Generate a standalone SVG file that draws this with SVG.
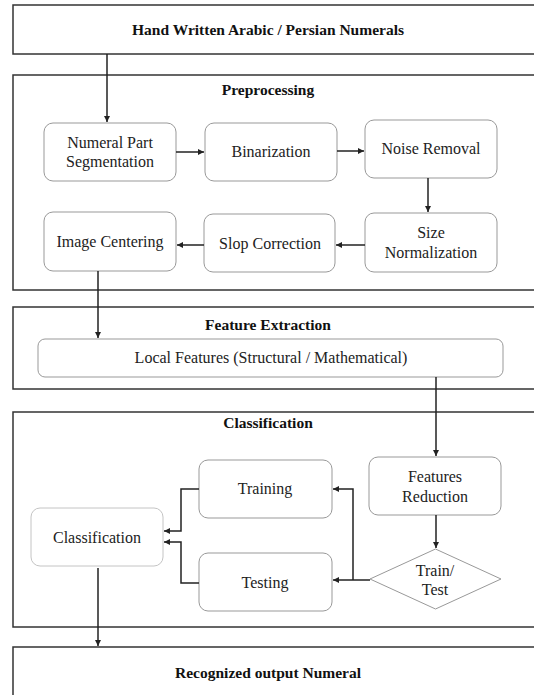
<svg xmlns="http://www.w3.org/2000/svg" width="534" height="695" viewBox="0 0 534 695">
<style>
.frame{fill:#fff;stroke:#333;stroke-width:1.5}
.node{fill:#fff;stroke:#999;stroke-width:1}
.light{fill:#fff;stroke:#c4c4c4;stroke-width:1}
.c{fill:none;stroke:#222;stroke-width:1.5}
</style>
<defs>
<marker id="ah" viewBox="0 0 10 10" refX="10" refY="5" markerWidth="4" markerHeight="4" orient="auto" markerUnits="strokeWidth">
<path d="M0,0 L10,5 L0,10 z" fill="#222"/>
</marker>
</defs>
<rect width="534" height="695" fill="#fff"/>
<g font-family="Liberation Serif" font-size="15.5" font-weight="bold" fill="#111" text-anchor="middle">
<g id="frame-input"><rect class="frame" x="13" y="5" width="530" height="49"/><text x="268" y="35">Hand Written Arabic / Persian Numerals</text></g>
<g id="frame-preprocessing"><rect class="frame" x="13" y="75" width="530" height="215"/><text x="268" y="95">Preprocessing</text></g>
<g id="frame-feature"><rect class="frame" x="13" y="307" width="530" height="82"/><text x="268" y="330">Feature Extraction</text></g>
<g id="frame-classification"><rect class="frame" x="13" y="412" width="530" height="215"/><text x="268" y="428">Classification</text></g>
<g id="frame-output"><rect class="frame" x="13" y="647" width="530" height="60"/><text x="268" y="678">Recognized output Numeral</text></g>
</g>
<g font-family="Liberation Serif" font-size="16" fill="#222" text-anchor="middle">
<g id="n-segmentation"><rect class="node" x="44" y="123" width="132" height="58" rx="9"/><text x="110" y="148">Numeral Part</text><text x="110" y="167">Segmentation</text></g>
<g id="n-binarization"><rect class="node" x="205" y="123" width="132" height="58" rx="9"/><text x="271" y="157">Binarization</text></g>
<g id="n-noise"><rect class="node" x="365" y="120" width="132" height="58" rx="9"/><text x="431" y="154">Noise Removal</text></g>
<g id="n-size"><rect class="node" x="365" y="213" width="132" height="59" rx="9"/><text x="431" y="238">Size</text><text x="431" y="258">Normalization</text></g>
<g id="n-slop"><rect class="node" x="204" y="214" width="131" height="58" rx="9"/><text x="270" y="249">Slop Correction</text></g>
<g id="n-centering"><rect class="node" x="44" y="212" width="132" height="59" rx="9"/><text x="110" y="247">Image Centering</text></g>
<g id="n-local"><rect class="node" x="38" y="339" width="465" height="38" rx="7"/><text x="271" y="363">Local Features (Structural / Mathematical)</text></g>
<g id="n-reduction"><rect class="node" x="369" y="457" width="132" height="58" rx="9"/><text x="435" y="482">Features</text><text x="435" y="502">Reduction</text></g>
<g id="n-traintest"><polygon class="node" points="370,579 435.5,549 501,579 435.5,609"/><text x="435" y="576">Train/</text><text x="435" y="595">Test</text></g>
<g id="n-training"><rect class="node" x="199" y="460" width="133" height="58" rx="9"/><text x="265" y="494">Training</text></g>
<g id="n-testing"><rect class="node" x="199" y="553" width="133" height="58" rx="9"/><text x="265" y="588">Testing</text></g>
<g id="n-classification"><rect class="light" x="31" y="508" width="132" height="58" rx="9"/><text x="97" y="543">Classification</text></g>
</g>
<g id="connectors">
<path class="c" d="M107,54 V122" marker-end="url(#ah)"/>
<path class="c" d="M176,152 H204" marker-end="url(#ah)"/>
<path class="c" d="M337,151 H364" marker-end="url(#ah)"/>
<path class="c" d="M428,178 V212" marker-end="url(#ah)"/>
<path class="c" d="M365,245 H336" marker-end="url(#ah)"/>
<path class="c" d="M204,245 H177" marker-end="url(#ah)"/>
<path class="c" d="M98,271 V338" marker-end="url(#ah)"/>
<path class="c" d="M436,377 V456" marker-end="url(#ah)"/>
<path class="c" d="M436,515 V548" marker-end="url(#ah)"/>
<path class="c" d="M370,580 H333" marker-end="url(#ah)"/>
<path class="c" d="M353,580 V489 H333" marker-end="url(#ah)"/>
<path class="c" d="M199,489 H181 V531 H164" marker-end="url(#ah)"/>
<path class="c" d="M199,583 H181 V542 H164" marker-end="url(#ah)"/>
<path class="c" d="M98,568 V646" marker-end="url(#ah)"/>
</g>
</svg>
